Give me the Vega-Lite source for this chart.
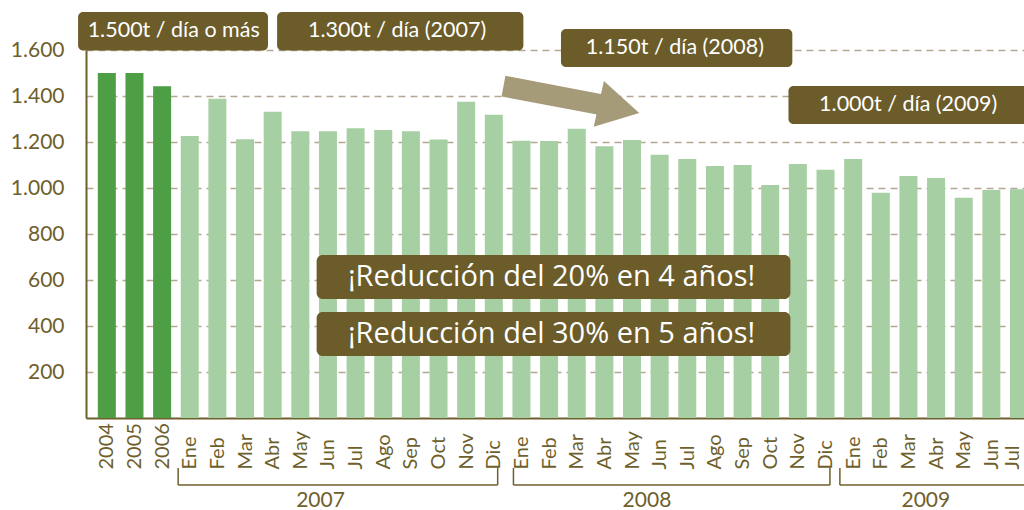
{
  "$schema": "https://vega.github.io/schema/vega-lite/v6.json",
  "autosize": "none",
  "width": 938,
  "height": 368,
  "padding": {"left": 86, "top": 50, "right": 0, "bottom": 92},
  "background": "white",
  "config": {"view": {"stroke": null}, "font": "Lato"},
  "datasets": {
    "meses": [
      {"i": 0, "etiqueta": "2004", "anio": "2004", "tipo": "anual", "valor": 1500},
      {"i": 1, "etiqueta": "2005", "anio": "2005", "tipo": "anual", "valor": 1500},
      {"i": 2, "etiqueta": "2006", "anio": "2006", "tipo": "anual", "valor": 1442},
      {"i": 3, "etiqueta": "Ene", "anio": "2007", "tipo": "mensual", "valor": 1226},
      {"i": 4, "etiqueta": "Feb", "anio": "2007", "tipo": "mensual", "valor": 1388},
      {"i": 5, "etiqueta": "Mar", "anio": "2007", "tipo": "mensual", "valor": 1212},
      {"i": 6, "etiqueta": "Abr", "anio": "2007", "tipo": "mensual", "valor": 1331},
      {"i": 7, "etiqueta": "May", "anio": "2007", "tipo": "mensual", "valor": 1247},
      {"i": 8, "etiqueta": "Jun", "anio": "2007", "tipo": "mensual", "valor": 1247},
      {"i": 9, "etiqueta": "Jul", "anio": "2007", "tipo": "mensual", "valor": 1260},
      {"i": 10, "etiqueta": "Ago", "anio": "2007", "tipo": "mensual", "valor": 1252},
      {"i": 11, "etiqueta": "Sep", "anio": "2007", "tipo": "mensual", "valor": 1247},
      {"i": 12, "etiqueta": "Oct", "anio": "2007", "tipo": "mensual", "valor": 1211},
      {"i": 13, "etiqueta": "Nov", "anio": "2007", "tipo": "mensual", "valor": 1375},
      {"i": 14, "etiqueta": "Dic", "anio": "2007", "tipo": "mensual", "valor": 1318},
      {"i": 15, "etiqueta": "Ene", "anio": "2008", "tipo": "mensual", "valor": 1205},
      {"i": 16, "etiqueta": "Feb", "anio": "2008", "tipo": "mensual", "valor": 1204},
      {"i": 17, "etiqueta": "Mar", "anio": "2008", "tipo": "mensual", "valor": 1258},
      {"i": 18, "etiqueta": "Abr", "anio": "2008", "tipo": "mensual", "valor": 1182},
      {"i": 19, "etiqueta": "May", "anio": "2008", "tipo": "mensual", "valor": 1209},
      {"i": 20, "etiqueta": "Jun", "anio": "2008", "tipo": "mensual", "valor": 1145},
      {"i": 21, "etiqueta": "Jul", "anio": "2008", "tipo": "mensual", "valor": 1126},
      {"i": 22, "etiqueta": "Ago", "anio": "2008", "tipo": "mensual", "valor": 1096},
      {"i": 23, "etiqueta": "Sep", "anio": "2008", "tipo": "mensual", "valor": 1100},
      {"i": 24, "etiqueta": "Oct", "anio": "2008", "tipo": "mensual", "valor": 1013},
      {"i": 25, "etiqueta": "Nov", "anio": "2008", "tipo": "mensual", "valor": 1104},
      {"i": 26, "etiqueta": "Dic", "anio": "2008", "tipo": "mensual", "valor": 1079},
      {"i": 27, "etiqueta": "Ene", "anio": "2009", "tipo": "mensual", "valor": 1126},
      {"i": 28, "etiqueta": "Feb", "anio": "2009", "tipo": "mensual", "valor": 979},
      {"i": 29, "etiqueta": "Mar", "anio": "2009", "tipo": "mensual", "valor": 1052},
      {"i": 30, "etiqueta": "Abr", "anio": "2009", "tipo": "mensual", "valor": 1043},
      {"i": 31, "etiqueta": "May", "anio": "2009", "tipo": "mensual", "valor": 958},
      {"i": 32, "etiqueta": "Jun", "anio": "2009", "tipo": "mensual", "valor": 991},
      {"i": 33, "etiqueta": "Jul", "anio": "2009", "tipo": "mensual", "valor": 995}
    ],
    "cajas": [
      {"texto": "1.500t / día o más", "desde": -1.04, "hasta": 5.83, "arriba": 1765, "abajo": 1598, "tx": 2.42, "ty": 1684},
      {"texto": "1.300t / día (2007)", "desde": 6.16, "hasta": 15.07, "arriba": 1765, "abajo": 1598, "tx": 10.5, "ty": 1684},
      {"texto": "1.150t / día (2008)", "desde": 16.43, "hasta": 24.8, "arriba": 1691, "abajo": 1526, "tx": 20.55, "ty": 1610},
      {"texto": "1.000t / día (2009)", "desde": 24.66, "hasta": 35, "arriba": 1443, "abajo": 1278, "tx": 28.99, "ty": 1362}
    ],
    "lemas": [
      {"texto": "¡Reducción del 20% en 4 años!", "desde": 7.59, "hasta": 24.73, "arriba": 709, "abajo": 517, "tx": 16.09, "ty": 615},
      {"texto": "¡Reducción del 30% en 5 años!", "desde": 7.59, "hasta": 24.73, "arriba": 461, "abajo": 270, "tx": 16.09, "ty": 367}
    ],
    "flecha": [
      {"x": 14.35, "y": 1443},
      {"x": 17.9, "y": 1362}
    ],
    "punta": [
      {"x": 18.53, "y": 1346}
    ],
    "anios": [
      {"anio": "2007", "desde": 2.58, "hasta": 14.14, "centro": 7.73},
      {"anio": "2008", "desde": 14.71, "hasta": 26.16, "centro": 19.54},
      {"anio": "2009", "desde": 26.52, "hasta": 36, "centro": 29.63}
    ]
  },
  "layer": [
    {
      "data": {"name": "meses"},
      "mark": {"type": "bar", "size": 18, "orient": "vertical"},
      "encoding": {
        "x": {
          "field": "i", "type": "quantitative",
          "scale": {"domain": [-0.5727, 33], "nice": false, "zero": false},
          "axis": {
            "values": [0,1,2,3,4,5,6,7,8,9,10,11,12,13,14,15,16,17,18,19,20,21,22,23,24,25,26,27,28,29,30,31,32,33],
            "tickCount": 100,
            "labelExpr": "data('meses')[datum.value].etiqueta",
            "title": null, "grid": false, "ticks": false,
            "domainColor": "#6e5f2c", "domainWidth": 2,
            "labelAngle": -90, "labelAlign": "left", "labelBaseline": "middle",
            "labelPadding": 51, "labelFontSize": 20, "labelColor": "#6e5f2c",
            "labelOffset": {"condition": {"test": "datum.value == 33", "value": -7}, "value": 0},
            "labelFlush": false, "labelOverlap": false, "labelBound": false
          }
        },
        "y": {
          "field": "valor", "type": "quantitative",
          "scale": {"domain": [0, 1600], "nice": false},
          "axis": {
            "values": [200, 400, 600, 800, 1000, 1200, 1400, 1600],
            "tickCount": 20,
            "labelExpr": "replace(format(datum.value, ','), ',', '.')",
            "title": null, "ticks": false,
            "domainColor": "#6e5f2c", "domainWidth": 2,
            "labelFontSize": 21, "labelColor": "#6e5f2c", "labelPadding": 22,
            "grid": true, "gridColor": "#b3a993", "gridDash": [7, 5], "gridWidth": 1.5
          }
        },
        "color": {
          "field": "tipo", "type": "nominal",
          "scale": {"domain": ["anual", "mensual"], "range": ["#4e9e45", "#a6cfa3"]},
          "legend": null
        }
      }
    },
    {
      "data": {"name": "flecha"},
      "mark": {"type": "line", "color": "#a69b78", "strokeWidth": 21, "strokeCap": "butt"},
      "encoding": {
        "x": {"field": "x", "type": "quantitative"},
        "y": {"field": "y", "type": "quantitative"}
      }
    },
    {
      "data": {"name": "punta"},
      "mark": {"type": "point", "shape": "M-1,-1.13L1,0L-1,1.13Z", "filled": true, "opacity": 1, "color": "#a69b78", "size": 1714, "angle": 12.5},
      "encoding": {
        "x": {"field": "x", "type": "quantitative"},
        "y": {"field": "y", "type": "quantitative"}
      }
    },
    {
      "data": {"name": "cajas"},
      "mark": {"type": "rect", "color": "#6b5c2a", "cornerRadius": 5},
      "encoding": {
        "x": {"field": "desde", "type": "quantitative"},
        "x2": {"field": "hasta"},
        "y": {"field": "arriba", "type": "quantitative"},
        "y2": {"field": "abajo"}
      }
    },
    {
      "data": {"name": "cajas"},
      "mark": {"type": "text", "color": "white", "fontSize": 21.5, "baseline": "middle", "align": "center"},
      "encoding": {
        "x": {"field": "tx", "type": "quantitative"},
        "y": {"field": "ty", "type": "quantitative"},
        "text": {"field": "texto"}
      }
    },
    {
      "data": {"name": "lemas"},
      "mark": {"type": "rect", "color": "#6b5c2a", "cornerRadius": 6},
      "encoding": {
        "x": {"field": "desde", "type": "quantitative"},
        "x2": {"field": "hasta"},
        "y": {"field": "arriba", "type": "quantitative"},
        "y2": {"field": "abajo"}
      }
    },
    {
      "data": {"name": "lemas"},
      "mark": {"type": "text", "color": "white", "font": "Open Sans", "fontSize": 29, "baseline": "middle", "align": "center"},
      "encoding": {
        "x": {"field": "tx", "type": "quantitative"},
        "y": {"field": "ty", "type": "quantitative"},
        "text": {"field": "texto"}
      }
    },
    {
      "data": {"name": "anios"},
      "mark": {"type": "rule", "color": "#6e5f2c", "strokeWidth": 1.5},
      "encoding": {
        "x": {"field": "desde", "type": "quantitative"},
        "x2": {"field": "hasta"},
        "y": {"datum": -291}
      }
    },
    {
      "data": {"name": "anios"},
      "mark": {"type": "rule", "color": "#6e5f2c", "strokeWidth": 1.5},
      "encoding": {
        "x": {"field": "desde", "type": "quantitative"},
        "y": {"datum": -217},
        "y2": {"datum": -291}
      }
    },
    {
      "data": {"name": "anios"},
      "mark": {"type": "rule", "color": "#6e5f2c", "strokeWidth": 1.5},
      "encoding": {
        "x": {"field": "hasta", "type": "quantitative"},
        "y": {"datum": -217},
        "y2": {"datum": -291}
      }
    },
    {
      "data": {"name": "anios"},
      "mark": {"type": "text", "color": "#6e5f2c", "fontSize": 21, "baseline": "top", "align": "center"},
      "encoding": {
        "x": {"field": "centro", "type": "quantitative"},
        "y": {"datum": -314},
        "text": {"field": "anio"}
      }
    }
  ]
}
